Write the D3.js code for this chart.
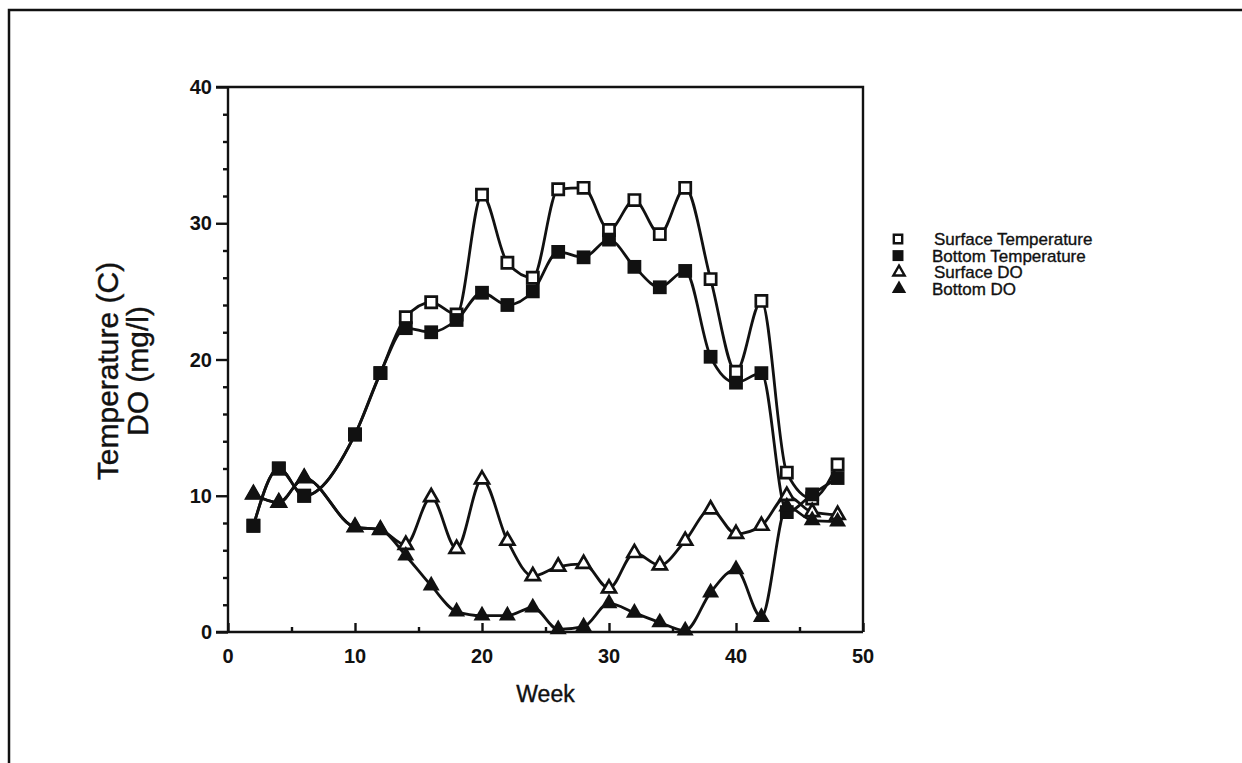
<!DOCTYPE html>
<html>
<head>
<meta charset="utf-8">
<script src="https://cdn.jsdelivr.net/npm/d3@7"></script>
<style>
  html, body { margin: 0; padding: 0; background: #fff; }
  svg { display: block; font-family: "Liberation Sans", Arial, sans-serif; }
  .tick-label { font-size: 20px; font-weight: bold; fill: #111; }
  .axis-title { font-size: 23px; fill: #111; stroke: #111; stroke-width: 0.4px; }
  .y-title { font-size: 30px; }
  .legend-text { font-size: 17px; fill: #111; stroke: #111; stroke-width: 0.35px; }
</style>
</head>
<body>
<div id="chart"></div>
<script>
// Week numbers (sampling every 2 weeks; week 8 was not sampled)
const weeks = [2, 4, 6, 10, 12, 14, 16, 18, 20, 22, 24, 26, 28, 30, 32, 34, 36, 38, 40, 42, 44, 46, 48];

const surfaceTemp = [7.8, 12.0, 10.0, 14.5, 19.0, 23.1, 24.2, 23.3, 32.1, 27.1, 26.0, 32.5, 32.6, 29.5, 31.7, 29.2, 32.6, 25.9, 19.1, 24.3, 11.7, 9.8, 12.3];
const bottomTemp  = [7.8, 12.0, 10.0, 14.5, 19.0, 22.3, 22.0, 22.9, 24.9, 24.0, 25.0, 27.9, 27.5, 28.8, 26.8, 25.3, 26.5, 20.2, 18.3, 19.0, 8.8, 10.1, 11.3];
const surfaceDO   = [10.1, 9.5, 11.3, 7.7, 7.5, 6.4, 9.9, 6.1, 11.2, 6.7, 4.1, 4.8, 5.0, 3.2, 5.8, 4.9, 6.7, 9.0, 7.2, 7.8, 10.0, 8.8, 8.6];
const bottomDO    = [10.1, 9.5, 11.3, 7.7, 7.5, 5.6, 3.4, 1.5, 1.2, 1.2, 1.8, 0.2, 0.4, 2.1, 1.4, 0.7, 0.1, 2.9, 4.6, 1.1, 9.2, 8.2, 8.1];

const xTicks = [0, 10, 20, 30, 40, 50];
const yTicks = [0, 10, 20, 30, 40];

const seriesNames = ["Surface Temperature", "Bottom Temperature", "Surface DO", "Bottom DO"];

function drawChart() {
    const W = 1242, H = 763;
    const svg = d3.select("#chart").append("svg")
        .attr("width", W)
        .attr("height", H);

    // Outer page frame
    svg.append("path")
        .attr("d", `M9,${H} L9,10 L${W},10`)
        .attr("fill", "none")
        .attr("stroke", "#111")
        .attr("stroke-width", 2.5);

    const x = d3.scaleLinear().domain([0, 50]).range([228, 863]);
    const y = d3.scaleLinear().domain([0, 40]).range([632, 87]);

    // Plot box
    svg.append("path")
        .attr("d", `M${x(0) - 12},${y(40)} L${x(50)},${y(40)} L${x(50)},${y(0)}`)
        .attr("fill", "none")
        .attr("stroke", "#111")
        .attr("stroke-width", 2.4);

    // Y axis (ticks outside)
    const yAxis = svg.append("g")
        .attr("transform", `translate(${x(0)},0)`)
        .call(d3.axisLeft(y).tickValues(d3.range(0, 41, 2)).tickSize(5).tickFormat(""));
    yAxis.selectAll(".tick line")
        .attr("x2", d => d % 10 === 0 ? -12 : -5);
    yAxis.select(".domain").attr("d", `M0,${y(0)}V${y(40)}`);
    yAxis.selectAll("line, path").attr("stroke", "#111").attr("stroke-width", 2.4);

    svg.append("g").selectAll("text")
        .data(yTicks)
        .join("text")
        .attr("class", "tick-label")
        .attr("x", x(0) - 16)
        .attr("y", d => y(d))
        .attr("dy", "0.36em")
        .attr("text-anchor", "end")
        .text(d => d);

    // X axis (ticks inside)
    const xAxis = svg.append("g")
        .attr("transform", `translate(0,${y(0)})`)
        .call(d3.axisBottom(x).tickValues(d3.range(0, 51, 5)).tickFormat(""));
    xAxis.selectAll(".tick line")
        .attr("y2", d => d % 10 === 0 ? -9 : -5);
    xAxis.select(".domain").attr("d", `M${x(0) - 12},0H${x(50)}`);
    xAxis.selectAll("line, path").attr("stroke", "#111").attr("stroke-width", 2.4);

    svg.append("g").selectAll("text")
        .data(xTicks)
        .join("text")
        .attr("class", "tick-label")
        .attr("x", d => x(d))
        .attr("y", y(0) + 31)
        .attr("text-anchor", "middle")
        .text(d => d);

    // Axis titles
    svg.append("text")
        .attr("class", "axis-title")
        .attr("x", x(25))
        .attr("y", y(0) + 70)
        .attr("text-anchor", "middle")
        .text("Week");

    const yt = svg.append("text")
        .attr("class", "axis-title y-title")
        .attr("transform", `translate(118,371) rotate(-90)`)
        .attr("text-anchor", "middle");
    yt.append("tspan").attr("x", 0).attr("dy", 0).text("Temperature (C)");
    yt.append("tspan").attr("x", 0).attr("dy", 30).text("DO (mg/l)");

    // Lines
    const allSeries = [surfaceTemp, bottomTemp, surfaceDO, bottomDO];
    const line = d3.line()
        .x((d, i) => x(weeks[i]))
        .y(d => y(d))
        .curve(d3.curveMonotoneX);

    allSeries.forEach(vals => {
        svg.append("path")
            .datum(vals)
            .attr("d", line)
            .attr("fill", "none")
            .attr("stroke", "#111")
            .attr("stroke-width", 2.8);
    });

    // Markers (open ones first so the filled symbols sit on top where values coincide)
    const sq = d3.symbol().type(d3.symbolSquare);
    const tri = d3.symbol().type(d3.symbolTriangle);
    const markers = [
        { vals: surfaceTemp, sym: sq.size(125)(), fill: "#fff", stroke: "#111", sw: 2.7 },
        { vals: surfaceDO, sym: tri.size(85)(), fill: "#fff", stroke: "#111", sw: 2.7 },
        { vals: bottomTemp, sym: sq.size(190)(), fill: "#111", stroke: "none", sw: 0 },
        { vals: bottomDO, sym: tri.size(125)(), fill: "#111", stroke: "none", sw: 0 }
    ];
    markers.forEach(m => {
        svg.append("g").selectAll("path")
            .data(m.vals)
            .join("path")
            .attr("d", m.sym)
            .attr("transform", (d, i) => `translate(${x(weeks[i])},${y(d)})`)
            .attr("fill", m.fill)
            .attr("stroke", m.stroke)
            .attr("stroke-width", m.sw);
    });

    // Legend
    const legendSyms = [
        { sym: sq.size(70)(), fill: "#fff", stroke: "#111", sw: 2.4, dx: 0 },
        { sym: sq.size(120)(), fill: "#111", stroke: "none", sw: 0, dx: 0 },
        { sym: tri.size(55)(), fill: "#fff", stroke: "#111", sw: 2.4, dx: 1 },
        { sym: tri.size(90)(), fill: "#111", stroke: "none", sw: 0, dx: 1 }
    ];
    const legend = svg.append("g").selectAll("g")
        .data(seriesNames)
        .join("g")
        .attr("transform", (d, i) => `translate(898,${239 + i * 16.6})`);
    legend.append("path")
        .attr("d", (d, i) => legendSyms[i].sym)
        .attr("transform", (d, i) => `translate(${legendSyms[i].dx},0)`)
        .attr("fill", (d, i) => legendSyms[i].fill)
        .attr("stroke", (d, i) => legendSyms[i].stroke)
        .attr("stroke-width", (d, i) => legendSyms[i].sw);
    legend.append("text")
        .attr("class", "legend-text")
        .attr("x", (d, i) => i === 1 || i === 3 ? 34 : 36)
        .attr("dy", "0.36em")
        .text(d => d);
}

drawChart();
</script>
</body>
</html>
